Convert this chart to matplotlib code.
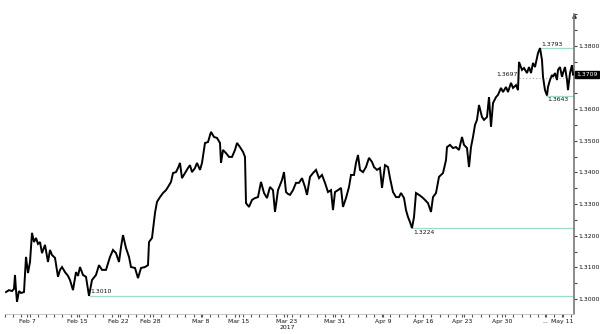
import matplotlib
matplotlib.use("Agg")
import matplotlib.pyplot as plt
from matplotlib.ticker import MultipleLocator, FixedLocator
import matplotlib.transforms as mtransforms

# --- data (bar index = time step, price) ---
bar = [1, 4, 7, 9, 10, 11, 12, 14, 16, 19, 21, 23, 25, 27, 29, 31, 33, 35, 37, 40,
       43, 45, 47, 50, 53, 55, 57, 60, 63, 65, 68, 71, 73, 75, 78, 81, 84, 87, 91, 94,
       97, 101, 105, 108, 111, 114, 116, 118, 121, 124, 126, 130, 133, 136, 140, 143, 144, 147, 150, 152,
       155, 158, 161, 163, 166, 168, 171, 173, 175, 177, 180, 183, 185, 187, 190, 192, 195, 197, 200, 203,
       206, 209, 212, 215, 216, 218, 221, 224, 227, 230, 232, 235, 238, 240, 241, 244, 247, 250, 253, 256,
       259, 262, 265, 268, 270, 273, 277, 279, 281, 283, 285, 288, 291, 294, 297, 300, 302, 305, 308, 311,
       314, 317, 320, 323, 326, 328, 330, 333, 336, 338, 341, 344, 346, 349, 351, 353, 355, 358, 361, 364,
       367, 369, 372, 375, 377, 380, 383, 385, 388, 391, 394, 396, 399, 401, 403, 405, 407, 409, 411, 414,
       417, 420, 423, 426, 428, 431, 434, 438, 441, 442, 445, 448, 451, 454, 457, 459, 462, 464, 466, 468,
       470, 472, 474, 477, 479, 482, 484, 486, 488, 491, 493, 496, 498, 501, 503, 506, 508, 511, 513, 514,
       517, 519, 522, 524, 526, 528, 530, 532, 533, 535, 537, 538, 540, 542, 543, 545, 547, 548, 550, 552,
       553, 555, 557, 558, 560, 562, 563, 565, 567, 568]
price = [1.3022, 1.3028, 1.3025, 1.3032, 1.3076, 1.3028, 1.2991, 1.3025, 1.3019, 1.3022,
         1.3133, 1.3082, 1.3117, 1.3209, 1.3180, 1.3193, 1.3174, 1.3180, 1.3145, 1.3171,
         1.3117, 1.3155, 1.3139, 1.3130, 1.3070, 1.3092, 1.3101, 1.3085, 1.3073, 1.3060,
         1.3028, 1.3085, 1.3073, 1.3101, 1.3076, 1.3070, 1.3010, 1.3060, 1.3076, 1.3107,
         1.3092, 1.3092, 1.3133, 1.3155, 1.3145, 1.3117, 1.3164, 1.3202, 1.3161, 1.3133,
         1.3101, 1.3098, 1.3066, 1.3098, 1.3101, 1.3107, 1.3180, 1.3193, 1.3272, 1.3307,
         1.3322, 1.3335, 1.3344, 1.3354, 1.3370, 1.3398, 1.3401, 1.3414, 1.3430, 1.3382,
         1.3398, 1.3414, 1.3423, 1.3401, 1.3414, 1.3430, 1.3408, 1.3430, 1.3493, 1.3496,
         1.3528, 1.3512, 1.3509, 1.3493, 1.3430, 1.3471, 1.3461, 1.3449, 1.3449, 1.3471,
         1.3493, 1.3480, 1.3465, 1.3449, 1.3303, 1.3291, 1.3313, 1.3319, 1.3322, 1.3370,
         1.3335, 1.3319, 1.3354, 1.3344, 1.3275, 1.3344, 1.3376, 1.3401, 1.3338, 1.3332,
         1.3329, 1.3344, 1.3367, 1.3367, 1.3382, 1.3354, 1.3329, 1.3386, 1.3398, 1.3408,
         1.3382, 1.3392, 1.3367, 1.3338, 1.3344, 1.3281, 1.3338, 1.3344, 1.3351, 1.3291,
         1.3319, 1.3354, 1.3392, 1.3392, 1.3430, 1.3455, 1.3408, 1.3401, 1.3417, 1.3446,
         1.3433, 1.3417, 1.3408, 1.3414, 1.3351, 1.3423, 1.3417, 1.3382, 1.3338, 1.3322,
         1.3322, 1.3335, 1.3319, 1.3281, 1.3259, 1.3243, 1.3224, 1.3259, 1.3335, 1.3329,
         1.3322, 1.3313, 1.3303, 1.3275, 1.3322, 1.3335, 1.3386, 1.3398, 1.3439, 1.3480,
         1.3487, 1.3477, 1.3480, 1.3471, 1.3512, 1.3487, 1.3477, 1.3417, 1.3480, 1.3512,
         1.3550, 1.3566, 1.3613, 1.3575, 1.3566, 1.3575, 1.3638, 1.3544, 1.3619, 1.3638,
         1.3645, 1.3667, 1.3654, 1.3670, 1.3654, 1.3683, 1.3667, 1.3676, 1.3660, 1.3749,
         1.3724, 1.3730, 1.3714, 1.3733, 1.3714, 1.3746, 1.3733, 1.3762, 1.3777, 1.3793,
         1.3755, 1.3702, 1.3660, 1.3643, 1.3670, 1.3692, 1.3708, 1.3702, 1.3714, 1.3692,
         1.3724, 1.3733, 1.3702, 1.3714, 1.3733, 1.3692, 1.3660, 1.3714, 1.3739, 1.3709]

# key levels marked on the chart
levels = [1.3010, 1.3224, 1.3793, 1.3643]
level_bar = [84, 407, 535, 541]
level_text = ["1.3010", "1.3224", "1.3793", "1.3643"]
level_above = [True, False, True, False]
ref_level = 1.3697
ref_bar = 514
last_price = "1.3709"

tick_bar = [22, 72, 113, 145, 196, 234, 282, 330, 378, 418, 457, 497, 540, 557]
tick_text = ["Feb 7", "Feb 15", "Feb 22", "Feb 28", "Mar 8", "Mar 15", "Mar 23",
             "Mar 31", "Apr 9", "Apr 16", "Apr 23", "Apr 30", "...", "May 11"]
year_bar = 282
year_text = "2017"
y_ticks = [1.30, 1.31, 1.32, 1.33, 1.34, 1.35, 1.36, 1.37, 1.38]

fs = 4.4

fig = plt.figure(figsize=(6, 3.34), dpi=100)
ax = fig.add_axes([5 / 600, 20 / 334, 569 / 600, 300 / 334])
ax.set_xlim(0, 569)
ax.set_ylim(1.29526, 1.39006)

level_color = "#9fdcc6"
for lv, b, txt, above in zip(levels, level_bar, level_text, level_above):
    ax.hlines(lv, b, 569, color=level_color, lw=0.9, zorder=1)
    ax.annotate(txt, (b, lv), xytext=(1, 1.0 if above else -1.0),
                textcoords="offset points", fontsize=fs,
                va="bottom" if above else "top", ha="left", color="#111111")

ax.hlines(ref_level, ref_bar, 569, color="#aaaaaa", lw=0.8, linestyles=(0, (1, 2)), zorder=1)
ax.annotate(f"{ref_level:.4f}", (ref_bar, ref_level), xytext=(-1, 1),
            textcoords="offset points", fontsize=fs, va="bottom", ha="right",
            color="#111111")

ax.plot(bar, price, color="black", lw=1.4, solid_joinstyle="miter", zorder=3)

# axes styling
for side in ("left", "top"):
    ax.spines[side].set_visible(False)
ax.spines["right"].set_color("#777777")
ax.spines["right"].set_linewidth(1.2)
ax.spines["bottom"].set_color("#bbbbbb")
ax.spines["bottom"].set_linewidth(0.6)

ax.yaxis.tick_right()
ax.yaxis.set_minor_locator(MultipleLocator(0.005))
ax.set_yticks(y_ticks)
# the 1.3700 label sits under the last-price box in the reference
ax.set_yticklabels(["" if abs(v - 1.37) < 1e-9 else f"{v:.4f}" for v in y_ticks])
ax.tick_params(axis="y", which="both", direction="out", length=2, width=0.8,
               colors="#444444", labelsize=fs, pad=1, labelcolor="#111111")

ax.xaxis.set_major_locator(FixedLocator(tick_bar))
ax.set_xticklabels(tick_text)
ax.xaxis.set_minor_locator(MultipleLocator(8.2))
ax.tick_params(axis="x", which="both", direction="out", length=1.8, width=0.8,
               colors="#555555", labelsize=fs, pad=2, labelcolor="#111111")
ax.text(year_bar, -0.038, year_text,
        transform=mtransforms.blended_transform_factory(ax.transData, ax.transAxes),
        ha="center", va="top", fontsize=fs, color="#111111")

# last price box on the right axis
trans = mtransforms.blended_transform_factory(ax.transAxes, ax.transData)
ax.text(1.004, price[-1], last_price, transform=trans, fontsize=fs, color="white",
        va="center", ha="left",
        bbox=dict(boxstyle="square,pad=0.2", fc="black", ec="black"))
ax.plot([1.0], [1.3895], marker="^", ms=2.5, color="#333333", transform=trans, clip_on=False)

fig.savefig("out.png", dpi=100)
